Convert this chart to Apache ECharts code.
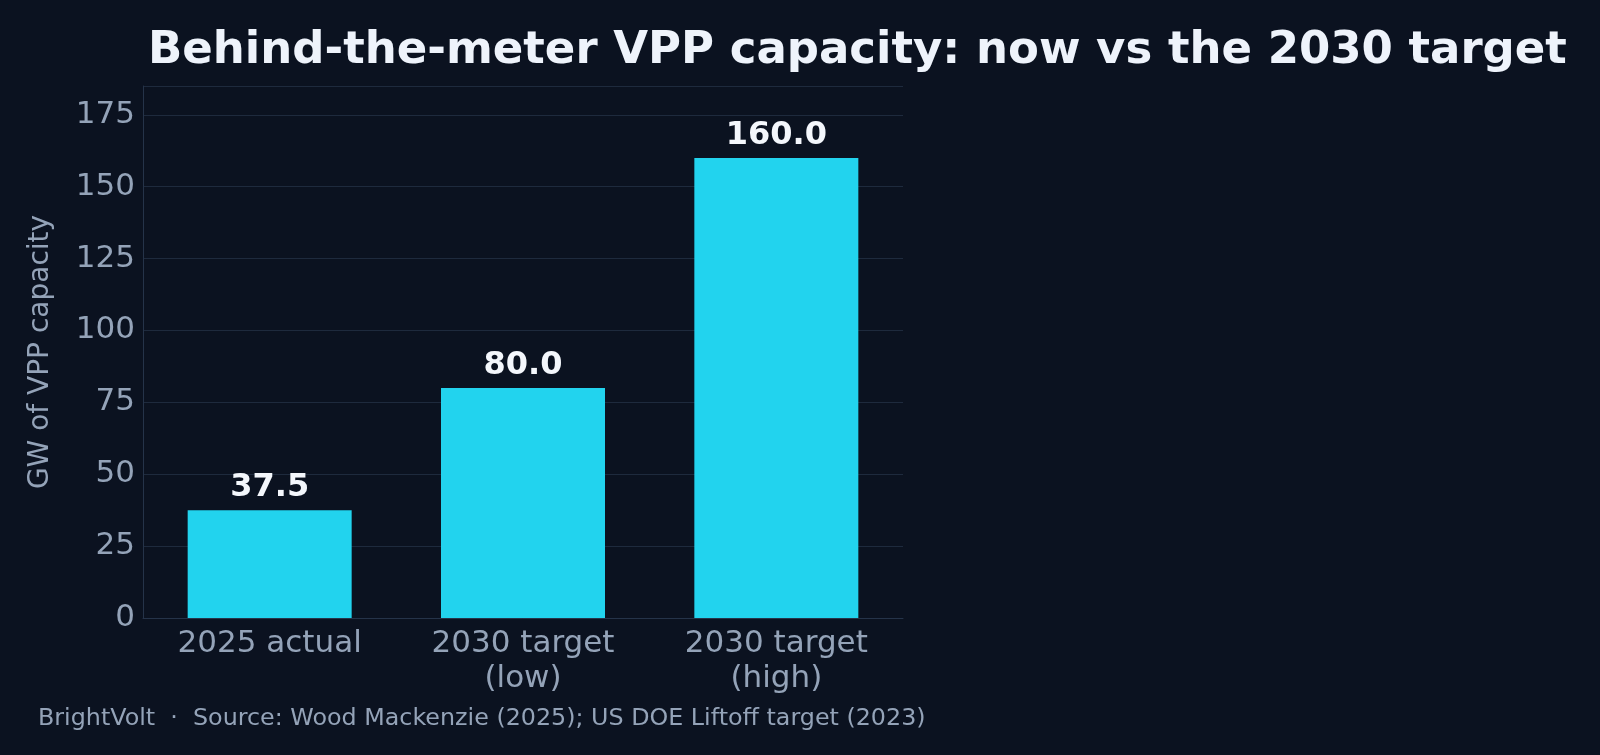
<!DOCTYPE html>
<html>
<head>
<meta charset="utf-8">
<script src="https://cdn.jsdelivr.net/npm/echarts@6/dist/echarts.min.js"></script>
<style>
  html, body { margin: 0; padding: 0; background: #0b1220; }
  #chart { width: 1600px; height: 755px; }
</style>
</head>
<body>
<div id="chart"></div>
<script>
// 数据
var categories = ['2025 actual', '2030 target\n(low)', '2030 target\n(high)']
var capacity = [37.5, 80.0, 160.0]
var yTicks = { min: 0, max: 185, interval: 25 }

var myChart = echarts.init(document.getElementById('chart'))
var option = {
  backgroundColor: '#0b1220',
  textStyle: { fontFamily: 'DejaVu Sans' },
  title: [{
    text: 'Behind-the-meter VPP capacity: now vs the 2030 target',
    left: 143, top: 24,
    textStyle: { color: '#eef3fb', fontSize: 45, fontWeight: 'bold', fontFamily: 'DejaVu Sans' }
  }, {
    text: 'BrightVolt  ·  Source: Wood Mackenzie (2025); US DOE Liftoff target (2023)',
    left: 33, top: 702,
    textStyle: { color: '#94a3b8', fontSize: 23.8, fontWeight: 'normal', fontFamily: 'DejaVu Sans' }
  }],
  grid: { left: 143, right: 697, top: 86, bottom: 137 },
  xAxis: {
    type: 'category',
    data: categories,
    axisLine: { lineStyle: { color: '#253349' } },
    axisTick: { alignWithLabel: true, lineStyle: { color: '#253349' } },
    axisLabel: { color: '#94a3b8', fontSize: 31, lineHeight: 35, margin: 8 }
  },
  yAxis: {
    type: 'value',
    min: yTicks.min, max: yTicks.max, interval: yTicks.interval,
    name: 'GW of VPP capacity',
    nameLocation: 'middle',
    nameGap: 88,
    nameTextStyle: { color: '#94a3b8', fontSize: 28 },
    axisLine: { show: true, lineStyle: { color: '#253349' } },
    axisTick: { show: false },
    axisLabel: { color: '#94a3b8', fontSize: 31, margin: 8,
      formatter: function (v) { return v <= 175 ? v : '' } },
    splitLine: { lineStyle: { color: '#1e2a3d', width: 1 } }
  },
  series: [{
    type: 'bar',
    data: capacity,
    barWidth: 164,
    itemStyle: { color: '#22d3ee' },
    label: {
      show: true, position: 'top', distance: 6,
      color: '#f4f7fc', fontSize: 32, fontWeight: 'bold',
      formatter: function (p) { return p.value.toFixed(1) }
    }
  }]
}
myChart.setOption(option)
</script>
</body>
</html>
